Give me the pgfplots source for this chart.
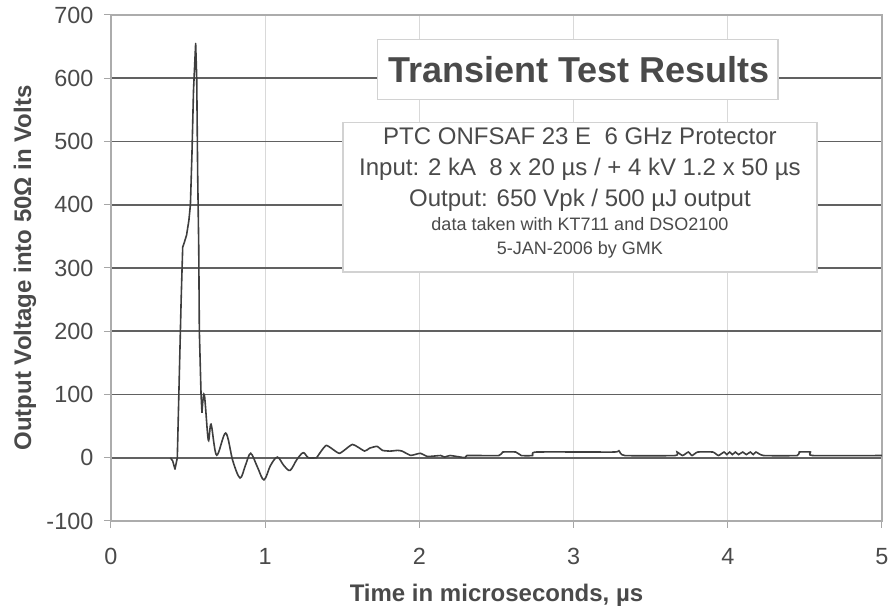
\documentclass[border=0pt]{standalone}
\usepackage{pgfplots}
\pgfplotsset{compat=1.18}
\usepackage{fontspec}
\setmainfont{Liberation Sans}
\definecolor{txt}{HTML}{4A4A4A}
\definecolor{curve}{HTML}{3E3E3E}
\begin{document}
\begin{tikzpicture}
\begin{axis}[
  scale only axis, width=385.5pt, height=253pt,
  xmin=0, xmax=5, ymin=-100, ymax=700,
  xtick={0,1,2,3,4,5}, ytick={-100,0,100,200,300,400,500,600,700},
  tick pos=left, tick align=outside, major tick length=3.5pt,
  every tick/.style={gray!70, line width=0.5pt},
  axis line style={gray!65, line width=0.6pt},
  grid=major,
  x grid style={gray!30, line width=0.5pt},
  y grid style={black!62, line width=0.8pt},
  /pgf/number format/assume math mode=true,
  tick label style={font=\fontsize{11.7}{13}\selectfont, text=txt},
  xticklabel style={anchor=base, yshift=-18.5pt},
  yticklabel style={xshift=-1.8pt},
  xlabel={Time in microseconds, µs},
  ylabel={Output Voltage into 50Ω in Volts},
  xlabel style={at={([yshift=-40.5pt]axis description cs:0.5,0)}, anchor=base, font=\bfseries\fontsize{12}{14}\selectfont, text=txt},
  ylabel style={at={([xshift=-43pt]axis description cs:0,0.5)}, anchor=center, font=\bfseries\fontsize{12}{14}\selectfont, text=txt},
  clip=false,
]
% main pulse
\addplot[curve, line width=0.8pt, line join=round, no marks] coordinates {
(0.385,0) (0.40,-5) (0.415,-18) (0.43,0) (0.445,150) (0.455,250) (0.465,333)
(0.475,340) (0.49,352) (0.505,375) (0.515,400) (0.525,480) (0.535,580) (0.549,655)
(0.556,600) (0.562,450) (0.569,333) (0.573,200) (0.584,100) (0.59,71)
};
% ringing
\addplot[curve, line width=0.8pt, smooth, tension=0.55, no marks] coordinates {
(0.59,71) (0.605,100) (0.631,28) (0.649,53) (0.685,4)
(0.744,39) (0.79,-5) (0.837,-32) (0.872,-12) (0.906,7) (0.95,-15) (0.992,-35)
(1.035,-12) (1.079,1) (1.12,-12) (1.161,-20) (1.205,-3) (1.247,8) (1.28,0) (1.334,0)
};
% tail
\addplot[curve, line width=0.8pt, smooth, tension=0.3, no marks] coordinates {
(1.334,0) (1.396,19.5)
(1.481,7) (1.566,21) (1.644,10.5) (1.676,15) (1.725,18) (1.761,11.6)
(1.810,10.5) (1.858,11.6) (1.888,10.5) (1.944,3.7) (2.005,7) (2.053,2)
(2.138,3.5) (2.163,1) (2.199,3.5) (2.297,0) (2.309,3.5) (2.516,3.5)
(2.54,9) (2.625,9) (2.661,3.5) (2.734,3.5) (2.758,9) (3.257,9) (3.294,11)
(3.331,3.5) (3.659,3.5) (3.671,9) (3.707,3.5) (3.744,9) (3.768,3.5)
(3.805,9) (3.903,9) (3.939,3.5) (3.976,9) (3.994,5) (4.012,9) (4.03,5)
(4.049,9) (4.07,5) (4.097,9) (4.12,5) (4.146,9) (4.165,5) (4.183,9)
(4.232,3.5) (4.45,3.5) (4.463,9) (4.536,9) (4.55,3.5) (5.0,3.5)
};
% title box
\draw[gray!35, line width=0.6pt, fill=white] (axis cs:1.730,566.2) rectangle (axis cs:4.326,661.4);
\node[anchor=base, text=txt, font=\bfseries\fontsize{18}{20}\selectfont, inner sep=0pt] at (axis cs:3.034,592.5) {Transient Test Results};
% info box
\draw[gray!35, line width=0.6pt, fill=white] (axis cs:1.505,293.7) rectangle (axis cs:4.579,529.7);
\node[anchor=base, text=txt, font=\fontsize{12}{14}\selectfont, inner sep=0pt] at (axis cs:3.041,494.5) {PTC ONFSAF 23 E\ \ 6 GHz Protector};
\node[anchor=base, text=txt, font=\fontsize{12}{14}\selectfont, inner sep=0pt] at (axis cs:3.041,447.0) {Input: 2 kA\ \ 8 x 20 µs / + 4 kV 1.2 x 50 µs};
\node[anchor=base, text=txt, font=\fontsize{12}{14}\selectfont, inner sep=0pt] at (axis cs:3.041,398.0) {Output: 650 Vpk / 500 µJ output};
\node[anchor=base, text=txt, font=\fontsize{9}{11}\selectfont, inner sep=0pt] at (axis cs:3.041,359.0) {data taken with KT711 and DSO2100};
\node[anchor=base, text=txt, font=\fontsize{9}{11}\selectfont, inner sep=0pt] at (axis cs:3.041,322.1) {5-JAN-2006 by GMK};
\end{axis}
\pgfresetboundingbox
\path[use as bounding box] ([xshift=-55.5pt,yshift=-42.5pt]current axis.south west) rectangle ([xshift=4pt,yshift=7.5pt]current axis.north east);
\end{tikzpicture}
\end{document}
